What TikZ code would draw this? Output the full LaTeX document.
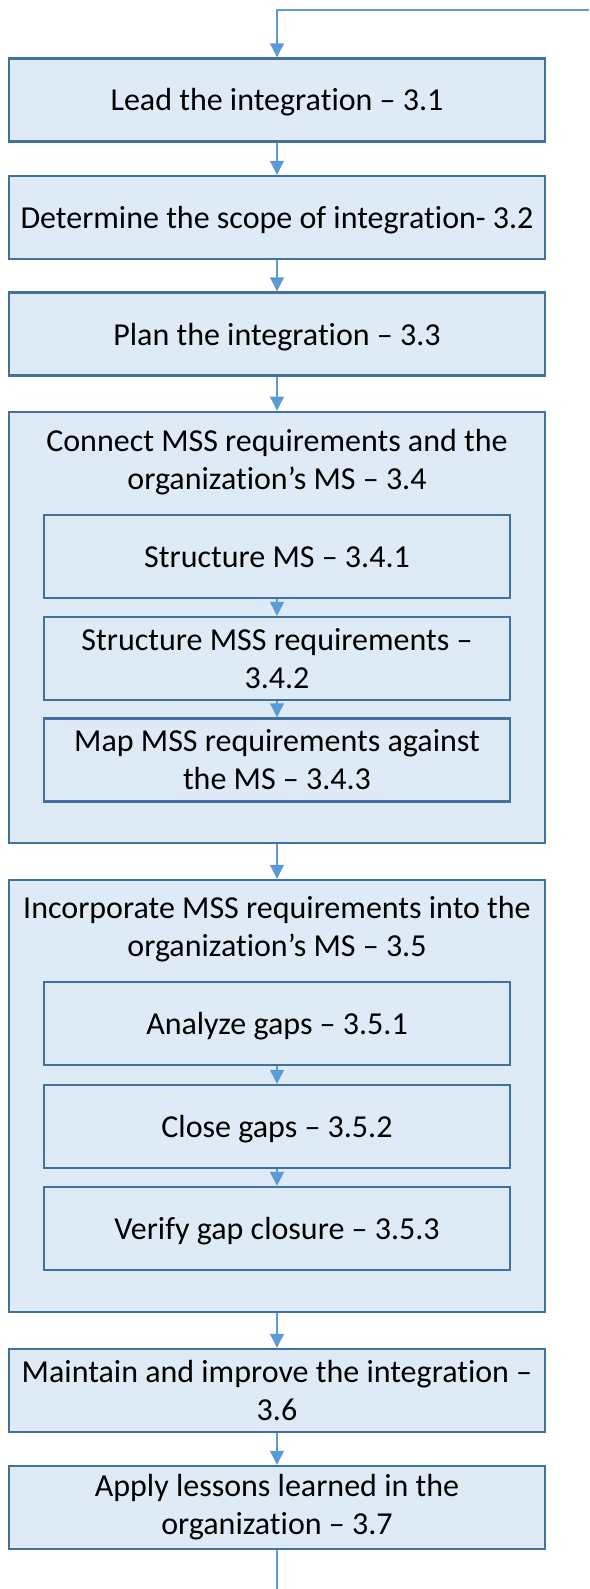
\documentclass[tikz,border=0pt]{standalone}
\usepackage{fontspec}
\setmainfont[Ligatures={NoCommon}]{Carlito}
\usetikzlibrary{arrows.meta}
\definecolor{boxfill}{RGB}{222,235,247}
\definecolor{boxline}{RGB}{65,113,156}
\definecolor{conn}{RGB}{91,155,213}
\tikzset{
  stepbox/.style={draw=boxline, fill=boxfill, line width=2.4pt, rectangle,
    minimum width=536pt, minimum height=83pt, inner sep=0pt, align=center,
    font=\fontsize{32}{38}\selectfont},
  oneline/.style={text height=22pt, text depth=0pt},
  innerbox/.style={stepbox, minimum width=466pt},
  groupbox/.style={stepbox, minimum width=536pt},
  titletext/.style={inner sep=0pt, align=center, font=\fontsize{32}{38}\selectfont},
  conline/.style={draw=conn, line width=1.2pt},
  arr/.style={conline, -{Triangle[width=14pt,length=14pt]}}
}
\begin{document}
\begin{tikzpicture}[x=1pt,y=-1pt]
\useasboundingbox (0,0) rectangle (589,1589);
\node[stepbox, oneline] (b1) at (277,100) {Lead the integration – 3.1};
\node[stepbox, oneline] (b2) at (277,217.5) {Determine the scope of integration- 3.2};
\node[stepbox, oneline] (b3) at (277,334) {Plan the integration – 3.3};
\node[groupbox, minimum height=431.3pt] (g4) at (277,627.4) {};
\node[titletext] (t4) at (277,462) {Connect MSS requirements and the\\organization’s MS – 3.4};
\node[innerbox, oneline] (i1) at (277,556.5) {Structure MS – 3.4.1};
\node[innerbox] (i2) at (277,658.5) {\vphantom{Ay}Structure MSS requirements –\\3.4.2};
\node[innerbox] (i3) at (277,760) {Map MSS requirements against\\the MS – 3.4.3};
\node[groupbox, minimum height=432pt] (g5) at (277,1096) {};
\node[titletext] (t5) at (277,929) {Incorporate MSS requirements into the\\organization’s MS – 3.5};
\node[innerbox, oneline] (j1) at (277,1023.5) {Analyze gaps – 3.5.1};
\node[innerbox, oneline] (j2) at (277,1126.5) {Close gaps – 3.5.2};
\node[innerbox, oneline] (j3) at (277,1228.5) {Verify gap closure – 3.5.3};
\node[stepbox] (b6) at (277,1390.5) {Maintain and improve the integration –\\3.6};
\node[stepbox] (b7) at (277,1507.5) {Apply lessons learned in the\\organization – 3.7};
\coordinate (topright) at (589,10);
\coordinate (topcorner) at (277,10);
\coordinate (bottomend) at (277,1589);
\draw[arr] (topright) -- (topcorner) -- (b1.north);
\draw[arr] (b1) -- (b2);
\draw[arr] (b2) -- (b3);
\draw[arr] (b3) -- (g4.north);
\draw[arr] (i1) -- (i2);
\draw[arr] (i2) -- (i3);
\draw[arr] (g4.south) -- (g5.north);
\draw[arr] (j1) -- (j2);
\draw[arr] (j2) -- (j3);
\draw[arr] (g5.south) -- (b6);
\draw[arr] (b6) -- (b7);
\draw[conline] (b7) -- (bottomend);
\end{tikzpicture}
\end{document}
